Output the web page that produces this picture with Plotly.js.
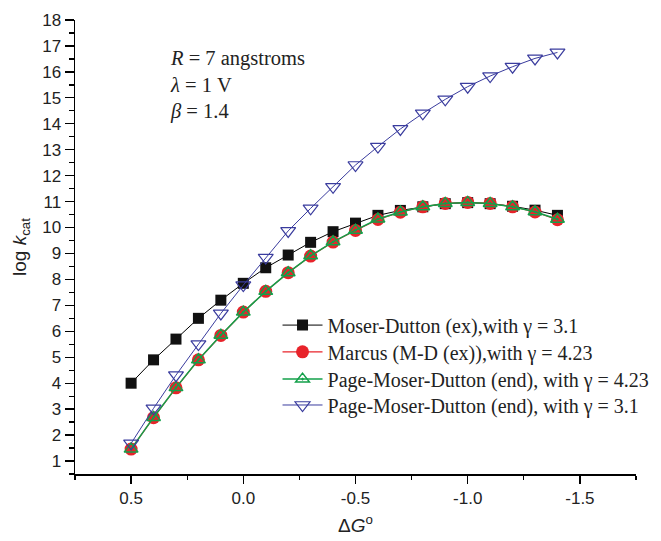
<!DOCTYPE html>
<html>
<head>
<meta charset="utf-8">
<script src="https://cdn.plot.ly/plotly-3.0.1.min.js"></script>
<style>html,body{margin:0;padding:0;background:#fff;}#chart{width:661px;height:541px;}</style>
</head>
<body>
<div id="chart"></div>
<script>
var dG = [0.5, 0.4, 0.3, 0.2, 0.1, 0.0, -0.1, -0.2, -0.3, -0.4, -0.5, -0.6, -0.7, -0.8, -0.9, -1.0, -1.1, -1.2, -1.3, -1.4];
var moserDuttonEx = [4.0, 4.9, 5.7, 6.5, 7.2, 7.85, 8.45, 8.94, 9.43, 9.84, 10.17, 10.47, 10.66, 10.8, 10.92, 10.96, 10.92, 10.82, 10.67, 10.47];
var marcusMD = [1.46, 2.67, 3.82, 4.9, 5.84, 6.74, 7.54, 8.26, 8.9, 9.44, 9.89, 10.31, 10.59, 10.8, 10.93, 10.97, 10.93, 10.8, 10.6, 10.3];
var pageMD423 = [1.46, 2.68, 3.83, 4.9, 5.85, 6.74, 7.54, 8.26, 8.91, 9.45, 9.9, 10.33, 10.6, 10.8, 10.93, 10.97, 10.93, 10.8, 10.61, 10.32];
var pageMD31 = [1.68, 3.03, 4.31, 5.51, 6.69, 7.78, 8.84, 9.87, 10.74, 11.57, 12.41, 13.12, 13.8, 14.4, 14.94, 15.43, 15.84, 16.2, 16.52, 16.75];
var seriesNames = [
  'Moser-Dutton (ex),with γ = 3.1',
  'Marcus (M-D (ex)),with γ = 4.23',
  'Page-Moser-Dutton (end), with γ = 4.23',
  'Page-Moser-Dutton (end), with γ = 3.1'
];
var xTickVals = [0.5, 0.0, -0.5, -1.0, -1.5];
var xTickText = ['0.5', '0.0', '-0.5', '-1.0', '-1.5'];
var yTickVals = [1,2,3,4,5,6,7,8,9,10,11,12,13,14,15,16,17,18];

var traces = [
  {x: dG, y: moserDuttonEx, name: seriesNames[0], mode: 'lines+markers', legend: 'legend',
   line: {color: '#000000', width: 1},
   marker: {symbol: 'square', size: 11, color: '#111111'}},
  {x: dG, y: marcusMD, name: seriesNames[1], mode: 'lines+markers', legend: 'legend2',
   line: {color: '#e8232a', width: 1.2},
   marker: {symbol: 'circle', size: 13, color: '#e8232a'}},
  {x: dG, y: pageMD423, name: seriesNames[2], mode: 'lines+markers', legend: 'legend3',
   line: {color: '#13a04a', width: 1.5},
   marker: {symbol: 'triangle-up-open-dot', size: 12, color: '#13a04a', line: {width: 1.5}}},
  {x: dG, y: pageMD31, name: seriesNames[3], mode: 'lines+markers', legend: 'legend4',
   line: {color: '#3a3c9e', width: 1},
   marker: {symbol: 'triangle-down-open', size: 13, color: '#3a3c9e', line: {width: 1.2}}}
];

function leg(y) {
  return {
    x: 0.361, y: y, xanchor: 'left', yanchor: 'middle',
    bgcolor: 'rgba(0,0,0,0)',
    font: {family: 'Liberation Serif, Times New Roman, serif', size: 20, color: '#222'},
    itemwidth: 40
  };
}

var layout = {
  width: 661, height: 541,
  margin: {l: 75, r: 25, t: 20, b: 67, autoexpand: false},
  paper_bgcolor: '#ffffff', plot_bgcolor: '#ffffff',
  showlegend: true,
  legend: leg(0.328),
  legend2: leg(0.269),
  legend3: leg(0.209),
  legend4: leg(0.152),
  xaxis: {
    range: [0.75, -1.75],
    tickmode: 'array', tickvals: xTickVals, ticktext: xTickText,
    ticks: 'outside', ticklen: 8, tickwidth: 1.3, tickcolor: '#000',
    minor: {dtick: 0.25, ticks: 'outside', ticklen: 4, tickwidth: 1.3, tickcolor: '#000'},
    showline: true, linecolor: '#000', linewidth: 1.5,
    showgrid: false, zeroline: false,
    tickfont: {family: 'Liberation Sans, Arial, sans-serif', size: 17, color: '#222'},
    title: {text: 'Δ<i>G</i><sup>o</sup>', font: {family: 'Liberation Sans, Arial, sans-serif', size: 19, color: '#222'}, standoff: 12}
  },
  yaxis: {
    range: [0.5, 18],
    tickmode: 'array', tickvals: yTickVals,
    ticks: 'outside', ticklen: 9, tickwidth: 1.3, tickcolor: '#000',
    minor: {dtick: 0.5, tick0: 0.5, ticks: 'outside', ticklen: 5, tickwidth: 1.3, tickcolor: '#000'},
    showline: true, linecolor: '#000', linewidth: 1.5,
    showgrid: false, zeroline: false,
    tickfont: {family: 'Liberation Sans, Arial, sans-serif', size: 17, color: '#222'},
    title: {text: 'log <i>k</i><sub>cat</sub>', font: {family: 'Liberation Sans, Arial, sans-serif', size: 19, color: '#222'}, standoff: 10}
  },
  annotations: [{
    xref: 'paper', yref: 'paper', x: 0.165, y: 0.945, xanchor: 'left', yanchor: 'top',
    align: 'left', showarrow: false,
    font: {family: 'Liberation Serif, Times New Roman, serif', size: 20.5, color: '#222'},
    text: '<i>R</i> = 7 angstroms<br><i>λ</i> = 1 V<br><i>β</i> = 1.4'
  }]
};

Plotly.newPlot('chart', traces, layout, {displayModeBar: false, staticPlot: true});
</script>
</body>
</html>
